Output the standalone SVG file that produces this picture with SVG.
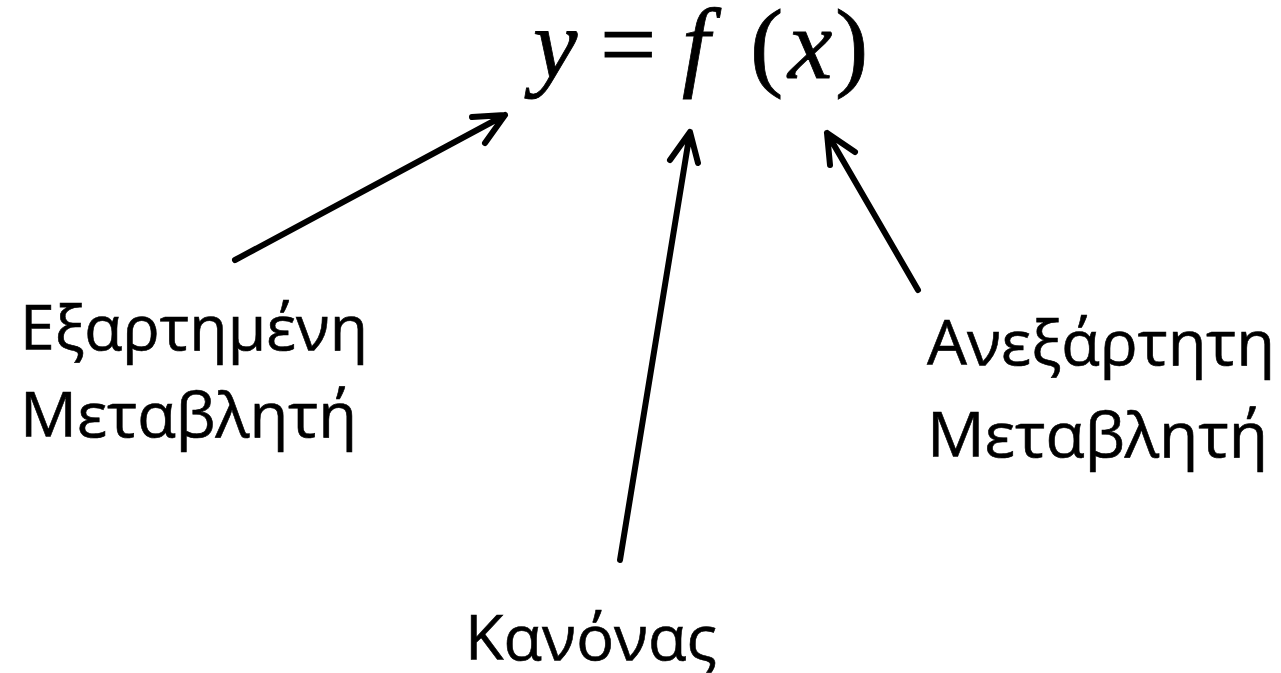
<svg xmlns="http://www.w3.org/2000/svg" width="1281" height="673" viewBox="0 0 1281 673">
<style>
.lbl{font-family:"Open Sans","Noto Sans",sans-serif;font-size:63px;fill:#000;stroke:#000;stroke-width:0.6}
.m{font-family:"Liberation Serif","Times New Roman",serif;font-size:100px;fill:#000;stroke:#000;stroke-width:0.8}
.mi{font-style:italic}
.arr{fill:none;stroke:#000;stroke-width:6;stroke-linecap:round;stroke-linejoin:round}
</style>
<rect width="1281" height="673" fill="#fff"/>
<g id="formula">
<text class="m mi" x="533" y="78">y</text>
<text class="m" x="600" y="78">=</text>
<text class="m mi" x="682" y="78">f</text>
<text class="m" x="750" y="78">(</text>
<text class="m mi" x="788" y="78">x</text>
<text class="m" x="835" y="78">)</text>
</g>
<g id="dependent">
<text class="lbl" x="20" y="350" textLength="348" lengthAdjust="spacingAndGlyphs">Εξαρτημένη</text>
<text class="lbl" x="20" y="437" textLength="337" lengthAdjust="spacingAndGlyphs">Μεταβλητή</text>
</g>
<g id="independent">
<text class="lbl" x="927" y="365" textLength="348" lengthAdjust="spacingAndGlyphs">Ανεξάρτητη</text>
<text class="lbl" x="927" y="457" textLength="341" lengthAdjust="spacingAndGlyphs">Μεταβλητή</text>
</g>
<g id="rule">
<text class="lbl" x="465" y="660" textLength="252" lengthAdjust="spacingAndGlyphs">Κανόνας</text>
</g>
<g id="connectors">
<path class="arr" d="M235 260 L505 115 M472 117 L505 115 L485 143"/>
<path class="arr" d="M620 560 L690 132 M670 160 L690 132 L698 163"/>
<path class="arr" d="M918 290 L827 133 M830 165 L827 133 L855 152"/>
</g>
</svg>
